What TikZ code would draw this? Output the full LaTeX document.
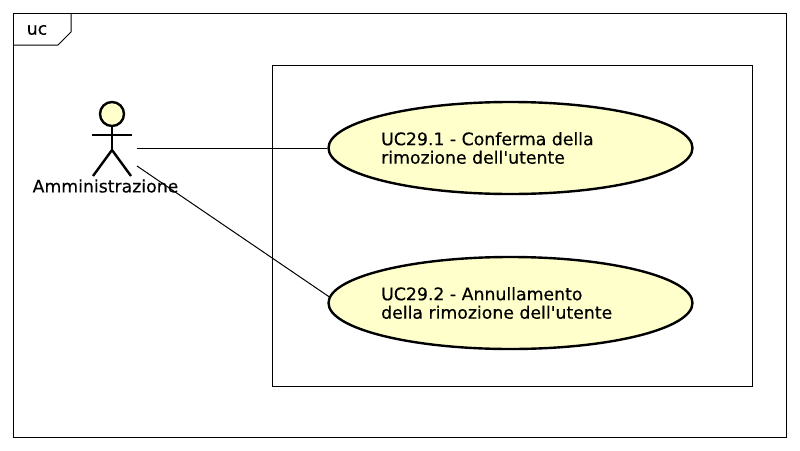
\documentclass[tikz,border=0pt]{standalone}
\usepackage{fontspec}
\setmainfont[FakeBold=0.4]{DejaVu Sans}
\usetikzlibrary{positioning, shapes.geometric}
\definecolor{ucfill}{RGB}{255,255,204}

\begin{document}
\begin{tikzpicture}
            [x=1pt, y=-1pt,
             usecase/.style={ellipse, draw=black, fill=ucfill, line width=2.4pt, minimum width=364pt, minimum height=92pt, inner sep=0pt},
             uctext/.style={anchor=west, align=left, font=\fontsize{17.3}{18.5}\selectfont, inner sep=0pt},
             stick/.style={draw=black, line width=2.4pt},
             assoc/.style={draw=black, line width=1pt}]
            \useasboundingbox (0,0) rectangle (800,450);
            \fill[white] (0,0) rectangle (800,450);

            \node[draw=black, line width=1pt, minimum width=773pt, minimum height=424pt, inner sep=0pt] (frame) at (400,225.5) {};
            \node[draw=black, line width=1pt, minimum width=480pt, minimum height=320.5pt, inner sep=0pt] (system) at (512,225.75) {};
            \draw[line width=1pt] (frame.north west |- 0,45) -- (58,45) -- (71,32) -- (71,13.5);
            \node[font=\fontsize{17.3}{18.5}\selectfont, inner sep=0pt] (uc) at (37,30) {uc};

            % actor
            \node[circle, draw=black, fill=ucfill, line width=2.4pt, minimum size=24pt, inner sep=0pt] (head) at (112,114) {};
            \coordinate (hip) at (112,150);
            \draw[stick] (head.south) -- (hip);
            \coordinate (armL) at (92,135);
            \coordinate (armR) at (132,135);
            \coordinate (footL) at (93,176);
            \coordinate (footR) at (131,176);
            \draw[stick] (armL) -- (armR);
            \draw[stick] (footL) -- (hip) -- (footR);
            \node[font=\fontsize{17.3}{18.5}\selectfont, inner sep=0pt] (actor) at (105.5,186) {Amministrazione};

            \node[usecase] (uc1) at (510.5,148) {};
            \node[usecase] (uc2) at (510.5,303) {};
            \node[uctext] (uc1text) at (381,148) {UC29.1 - Conferma della\\rimozione dell\textquotesingle utente};
            \node[uctext] (uc2text) at (381,303) {UC29.2 - Annullamento\\della rimozione dell\textquotesingle utente};

            \coordinate (a1) at (137,148);
            \coordinate (a2) at (137,166);
            \path[assoc] (a1) edge (uc1.west);
            \path[assoc] (a2) edge (uc2.178);
        \end{tikzpicture}
\end{document}
